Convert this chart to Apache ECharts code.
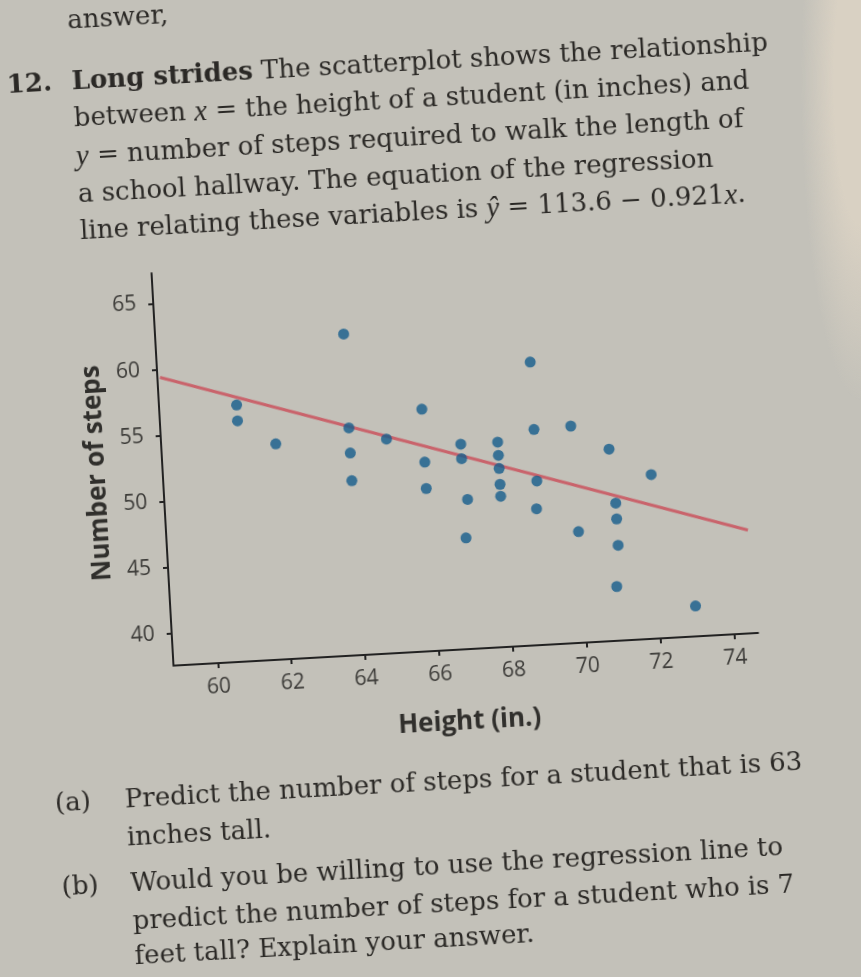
<!DOCTYPE html>
<html><head><meta charset="utf-8">
<script src="https://cdn.jsdelivr.net/npm/echarts@6/dist/echarts.min.js"></script>
<style>
html,body{margin:0;padding:0;width:861px;height:977px;overflow:hidden;}
body{background:radial-gradient(ellipse 60px 320px at 861px 80px, #d9d1c3 45%, rgba(195,193,185,0) 100%), #c3c1b9;}
#chart{position:absolute;left:-40px;top:-40px;width:941px;height:1057px;transform:rotate(-3.2deg);transform-origin:50% 50%;}
</style></head><body><div id="chart"></div>
<script>
// ---- data ----
const heights = [63.9,60.9,60.9,61.9,63.9,63.9,63.9,64.9,65.9,65.9,65.9,66.9,66.9,67.0,66.9,68.9,67.9,67.9,67.9,67.9,67.9,68.9,68.9,68.85,69.9,69.95,70.9,71.0,71.0,71.0,70.9,72.0,73.0];
const steps   = [61.9,57.0,55.8,53.9,54.8,52.9,50.8,53.8,55.9,51.9,49.9,53.1,52.0,48.9,46.0,59.0,53.1,52.1,51.1,49.9,49.0,53.9,50.0,47.9,54.0,46.0,52.1,48.0,46.8,44.8,41.7,50.0,39.9];
const xTicks = [60,62,64,66,68,70,72,74];
const yTicks = [40,45,50,55,60,65];
// regression line end points as drawn (ŷ = 113.6 − 0.921x)
const regLineX = [58.87, 74.53];
const regLineY = [59.4, 45.4];
const xTitle = 'Height (in.)';
const yTitle = 'Number of steps';
const headLines = [
  '{b|Long strides} The scatterplot shows the relationship',
  'between {i|x} = the height of a student (in inches) and',
  '{i|y} = number of steps required to walk the length of',
  'a school hallway. The equation of the regression',
  'line relating these variables is {i|ŷ} = 113.6 − 0.921{i|x}.'
];
const partA = ['Predict the number of steps for a student that is 63', 'inches tall.'];
const partB = ['Would you be willing to use the regression line to', 'predict the number of steps for a student who is 7', 'feet tall? Explain your answer.'];

const chart = echarts.init(document.getElementById('chart'));
const serif = '"DejaVu Serif", "Liberation Serif", serif';
const FS = 26;
const textCol = '#2b2926';
const rich = {
  i: {fontFamily: '"Liberation Serif", serif', fontSize: FS + 3, fontStyle: 'italic', fill: textCol},
  b: {fontFamily: serif, fontSize: FS, fontWeight: 'bold', fill: textCol}
};
function txt(s, x, y, extra) {
  return {type: 'text', x: x, y: y, z: 10,
    style: Object.assign({text: s, fontFamily: serif, fontSize: FS, fill: textCol,
      textVerticalAlign: 'middle', rich: rich}, extra || {})};
}
const graphics = [];
graphics.push(txt('answer,', 134, 42));
graphics.push(txt('12.', 70, 103, {fontWeight: 'bold'}));
const headY = [103, 140, 178, 216, 253];
headLines.forEach((s, k) => graphics.push(txt(s, 135, headY[k])));
graphics.push(txt('(a)', 78, 823));
graphics.push(txt(partA[0], 148, 823));
graphics.push(txt(partA[1], 148, 861));
graphics.push(txt('(b)', 80, 907));
const bY = [907, 945, 980];
partB.forEach((s, k) => graphics.push(txt(s, 149, bY[k])));

const axisCol = '#222222';
const sans = '"Open Sans", Lato, sans-serif';
const labelStyle = {fontFamily: sans, fontSize: 21, color: '#3c3b38'};
chart.setOption({
  backgroundColor: 'transparent',
  animation: false,
  grid: {left: 204, top: 298, width: 585.5, height: 393, outerBoundsMode: 'none'},
  xAxis: {
    type: 'value', min: 58.8, max: 74.65,
    axisLine: {show: true, lineStyle: {color: axisCol, width: 2}},
    axisTick: {show: true, customValues: xTicks, length: 5, lineStyle: {color: axisCol, width: 2}},
    axisLabel: Object.assign({customValues: xTicks, margin: 14}, labelStyle),
    splitLine: {show: false},
    name: xTitle, nameLocation: 'middle', nameGap: 60,
    nameTextStyle: {fontFamily: sans, fontSize: 26, fontWeight: 'bold', color: '#302f2c'}
  },
  yAxis: {
    type: 'value', min: 37.6, max: 67.3,
    axisLine: {show: true, lineStyle: {color: axisCol, width: 2}},
    axisTick: {show: true, customValues: yTicks, length: 5, lineStyle: {color: axisCol, width: 2}},
    axisLabel: Object.assign({customValues: yTicks, margin: 17}, labelStyle),
    splitLine: {show: false},
    name: yTitle, nameLocation: 'middle', nameRotate: 90, nameGap: 40,
    nameTextStyle: {fontFamily: sans, fontSize: 26, fontWeight: 'bold', color: '#302f2c'}
  },
  series: [
    {type: 'line', data: regLineX.map((x, i) => [x, regLineY[i]]), symbol: 'none',
      lineStyle: {color: '#c9636b', width: 3}, z: 2, silent: true},
    {type: 'scatter', data: heights.map((h, i) => [h, steps[i]]), symbolSize: 11,
      itemStyle: {color: '#155c8c'}, z: 3}
  ],
  graphic: graphics
});
</script></body></html>
